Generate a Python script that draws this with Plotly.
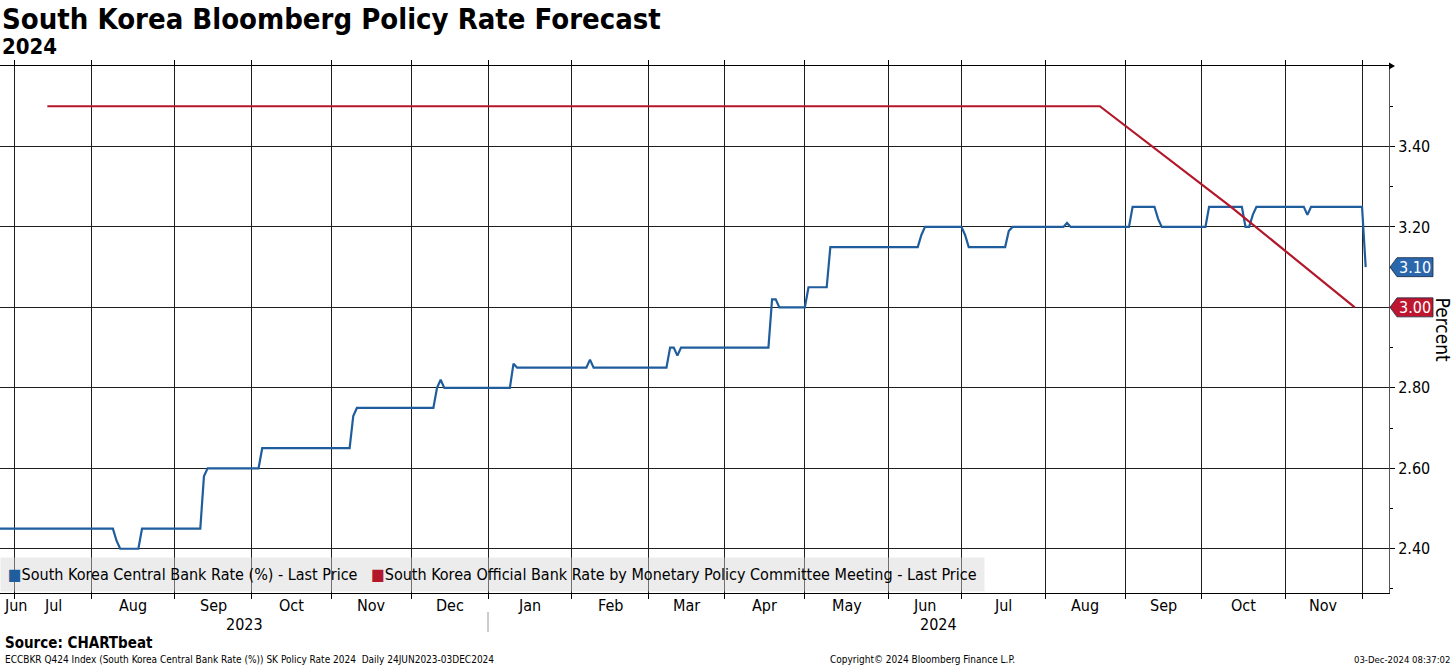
import pandas as pd
import plotly.graph_objects as go

# ---------------- data ----------------
TITLE = "South Korea Bloomberg Policy Rate Forecast"
SUBTITLE = "2024"
SERIES_NAMES = [
    "South Korea Central Bank Rate (%) - Last Price",
    "South Korea Official Bank Rate by Monetary Policy Committee Meeting - Last Price",
]

# Central bank rate forecast (daily, weekdays) - change points
cb_dates = [
    "2023-06-26", "2023-08-09", "2023-08-10", "2023-08-11", "2023-08-18", "2023-08-21",
    "2023-09-12", "2023-09-13", "2023-09-14", "2023-10-04", "2023-10-05",
    "2023-11-08", "2023-11-09", "2023-11-10",
    "2023-12-11", "2023-12-12", "2023-12-13", "2023-12-14",
    "2024-01-09", "2024-01-10", "2024-01-11",
    "2024-02-07", "2024-02-08", "2024-02-09",
    "2024-03-08", "2024-03-11", "2024-03-12", "2024-03-13", "2024-03-14",
    "2024-04-17", "2024-04-18", "2024-04-19", "2024-04-22",
    "2024-05-01", "2024-05-02", "2024-05-09", "2024-05-10",
    "2024-06-13", "2024-06-14", "2024-06-17",
    "2024-07-01", "2024-07-02", "2024-07-03",
    "2024-07-17", "2024-07-18", "2024-07-19",
    "2024-08-08", "2024-08-09", "2024-08-12",
    "2024-09-03", "2024-09-04", "2024-09-12", "2024-09-13", "2024-09-16",
    "2024-10-02", "2024-10-03",
    "2024-10-16", "2024-10-17", "2024-10-18", "2024-10-21", "2024-10-22",
    "2024-11-08", "2024-11-11", "2024-11-12",
    "2024-12-02", "2024-12-03",
]
cb_values = [
    2.45, 2.45, 2.42, 2.40, 2.40, 2.45,
    2.45, 2.58, 2.60, 2.60, 2.65,
    2.65, 2.73, 2.75,
    2.75, 2.80, 2.82, 2.80,
    2.80, 2.86, 2.85,
    2.85, 2.87, 2.85,
    2.85, 2.90, 2.90, 2.88, 2.90,
    2.90, 3.02, 3.02, 3.00,
    3.00, 3.05, 3.05, 3.15,
    3.15, 3.18, 3.20,
    3.20, 3.18, 3.15,
    3.15, 3.19, 3.20,
    3.20, 3.21, 3.20,
    3.20, 3.25, 3.25, 3.22, 3.20,
    3.20, 3.25,
    3.25, 3.20, 3.20, 3.23, 3.25,
    3.25, 3.23, 3.25,
    3.25, 3.10,
]

# Official bank rate at Monetary Policy Committee meetings
mpc_dates = [
    "2023-07-14", "2023-08-24", "2023-10-19", "2023-11-30", "2024-01-11", "2024-02-22",
    "2024-04-12", "2024-05-23", "2024-07-11", "2024-08-22", "2024-10-11", "2024-11-28",
]
mpc_values = [3.50, 3.50, 3.50, 3.50, 3.50, 3.50, 3.50, 3.50, 3.50, 3.50, 3.25, 3.00]

y_tick_vals = [2.40, 2.60, 2.80, 3.00, 3.20, 3.40]
y_minor_vals = [2.30, 2.50, 2.70, 2.90, 3.10, 3.30, 3.50]
month_labels = ["Jun", "Jul", "Aug", "Sep", "Oct", "Nov", "Dec", "Jan", "Feb", "Mar",
                "Apr", "May", "Jun", "Jul", "Aug", "Sep", "Oct", "Nov"]
month_periods = ["2023-06", "2023-07", "2023-08", "2023-09", "2023-10", "2023-11", "2023-12",
                 "2024-01", "2024-02", "2024-03", "2024-04", "2024-05", "2024-06", "2024-07",
                 "2024-08", "2024-09", "2024-10", "2024-11"]
year_labels = ["2023", "2024"]

SOURCE = "Source: CHARTbeat"
FOOTNOTE = "ECCBKR Q424 Index (South Korea Central Bank Rate (%)) SK Policy Rate 2024\u00a0\u00a0Daily 24JUN2023-03DEC2024"
COPYRIGHT = "Copyright\u00a9 2024 Bloomberg Finance L.P."
STAMP = "03-Dec-2024 08:37:02"
Y_TITLE = "Percent"

# ---------------- style ----------------
X_START = pd.Timestamp("2023-06-27 00:00")
X_END = pd.Timestamp("2024-12-11 09:36")
Y_RANGE = [2.29, 3.60]

BLUE = "#1f5d9d"
RED = "#b2172b"
BLUE_TAG = "#2a67ad"
RED_TAG = "#bf1630"
GRID = "#1e1e1e"
FONT = "DejaVu Sans Condensed, DejaVu Sans, sans-serif"
W, H = 1456, 666
ML, MR, MT, MB = 0, 67, 66, 73

bdays = pd.bdate_range("2023-06-01", "2024-12-31")


def bday_shift(start, k):
    """Position k business days after a business-day start (fractional allowed)."""
    idx = bdays.get_indexer([start.normalize()])[0]
    whole = int(k)
    return bdays[idx + whole] + pd.Timedelta(days=(k - whole)) + (start - start.normalize())


def n_bdays(a, b):
    return len(bdays[(bdays >= a.normalize()) & (bdays < b.normalize())]) + \
        ((b - b.normalize()) - (a - a.normalize())) / pd.Timedelta(days=1)


# month boundaries (first business day of each month) -> vertical grid
month_starts = [bdays[bdays.to_period("M") == pd.Period(p)][0] for p in month_periods[1:]]
month_starts.append(bdays[bdays.to_period("M") == pd.Period("2024-12")][0])

fig = go.Figure()
fig.add_trace(go.Scatter(
    x=pd.to_datetime(cb_dates), y=cb_values, mode="lines", name=SERIES_NAMES[0],
    line=dict(color=BLUE, width=2.2), showlegend=False))
fig.add_trace(go.Scatter(
    x=pd.to_datetime(mpc_dates), y=mpc_values, mode="lines", name=SERIES_NAMES[1],
    line=dict(color=RED, width=2.2), showlegend=False))

annotations = []
shapes = []

# month labels centred in each month's span
for lab, per in zip(month_labels, month_periods):
    if per == "2023-06":
        annotations.append(dict(x=X_START, y=0, xref="x", yref="paper", text=lab,
                                xanchor="left", yanchor="middle", xshift=2, yshift=-12,
                                showarrow=False, font=dict(family=FONT, size=16, color="#000")))
        continue
    bd = bdays[bdays.to_period("M") == pd.Period(per)]
    mid = bday_shift(bd[0], len(bd) / 2)
    annotations.append(dict(x=mid, y=0, xref="x", yref="paper", text=lab,
                            xanchor="center", yanchor="middle", yshift=-12,
                            showarrow=False, font=dict(family=FONT, size=16, color="#000")))

# year labels centred in visible portion of each year
jan1 = pd.Timestamp("2024-01-01")
for lab, (a, b) in zip(year_labels, [(X_START, jan1), (jan1, X_END)]):
    mid = bday_shift(a, n_bdays(a, b) / 2)
    annotations.append(dict(x=mid, y=0, xref="x", yref="paper", text=lab,
                            xanchor="center", yanchor="middle", yshift=-31,
                            showarrow=False, font=dict(family=FONT, size=16, color="#000")))

shapes.append(dict(type="line", xref="x", yref="paper", x0=jan1, x1=jan1,
                   ysizemode="pixel", yanchor=0, y0=-19, y1=-39,
                   line=dict(color="#9a9a9a", width=1)))

# title / subtitle
annotations.append(dict(x=0, y=1, xref="paper", yref="paper", text="<b>" + TITLE + "</b>",
                        xanchor="left", yanchor="middle", yshift=47, showarrow=False,
                        font=dict(family=FONT, size=29, color="#000")))
annotations.append(dict(x=0, y=1, xref="paper", yref="paper", text="<b>" + SUBTITLE + "</b>",
                        xanchor="left", yanchor="middle", yshift=20, showarrow=False,
                        font=dict(family=FONT, size=22, color="#000")))

# legend box
sq = lambda c: "<span style='color:%s'>\u25a0</span>" % c
legend_text = (sq(BLUE) + SERIES_NAMES[0] + "\u00a0\u00a0\u00a0" + sq(RED) + SERIES_NAMES[1])
annotations.append(dict(x=0, y=0, xref="paper", yref="paper", text=legend_text,
                        xanchor="left", yanchor="bottom", yshift=1, showarrow=False,
                        align="left", bgcolor="rgba(212,212,212,0.45)", borderpad=7,
                        font=dict(family=FONT, size=16, color="#000")))

# y axis title
annotations.append(dict(x=1, y=0.5, xref="paper", yref="paper", text=Y_TITLE, textangle=90,
                        xanchor="center", yanchor="middle", xshift=54, showarrow=False,
                        font=dict(family=FONT, size=19, color="#000")))

# last value tags
for val, col in [(cb_values[-1], BLUE_TAG), (mpc_values[-1], RED_TAG)]:
    shapes.append(dict(type="path", xref="paper", yref="y", xsizemode="pixel",
                       ysizemode="pixel", xanchor=1, yanchor=val,
                       path="M 1 0 L 8 9.5 L 44 9.5 L 44 -9.5 L 8 -9.5 Z",
                       fillcolor=col, line=dict(color="#1a2a40", width=0.8)))
    annotations.append(dict(x=1, y=val, xref="paper", yref="y", text="%.2f" % val,
                            xanchor="center", yanchor="middle", xshift=26, showarrow=False,
                            font=dict(family=FONT, size=16, color="#ffffff")))

# arrow at end of top border
shapes.append(dict(type="path", xref="paper", yref="paper", xsizemode="pixel",
                   ysizemode="pixel", xanchor=1, yanchor=1,
                   path="M 0 -3.5 L 6 0 L 0 3.5 Z", fillcolor="#000", line=dict(width=0)))

# footer
annotations.append(dict(x=0, y=0, xref="paper", yref="paper", text="<b>" + SOURCE + "</b>",
                        xanchor="left", yanchor="middle", xshift=3, yshift=-50, showarrow=False,
                        font=dict(family=FONT, size=15, color="#000")))
annotations.append(dict(x=0, y=0, xref="paper", yref="paper", text=FOOTNOTE,
                        xanchor="left", yanchor="middle", xshift=3, yshift=-66, showarrow=False,
                        font=dict(family=FONT, size=10, color="#000")))
annotations.append(dict(x=923 / (W - MR), y=0, xref="paper", yref="paper", text=COPYRIGHT,
                        xanchor="center", yanchor="middle", yshift=-66, showarrow=False,
                        font=dict(family=FONT, size=10, color="#000")))
annotations.append(dict(x=1, y=0, xref="paper", yref="paper", text=STAMP,
                        xanchor="right", yanchor="middle", xshift=63, yshift=-66, showarrow=False,
                        font=dict(family=FONT, size=9.5, color="#000")))

fig.update_layout(
    width=W, height=H,
    margin=dict(l=ML, r=MR, t=MT, b=MB),
    paper_bgcolor="#ffffff", plot_bgcolor="#ffffff",
    showlegend=False,
    annotations=annotations, shapes=shapes,
    xaxis=dict(
        type="date", range=[X_START, X_END],
        rangebreaks=[dict(bounds=["sat", "mon"])],
        tickmode="array", tickvals=month_starts, showticklabels=False,
        ticks="outside", ticklen=5, tickcolor="#000",
        showgrid=True, gridcolor=GRID, gridwidth=1,
        showline=True, linecolor="#000", linewidth=1, mirror="ticks",
        zeroline=False,
    ),
    yaxis=dict(
        side="right", range=Y_RANGE,
        tickmode="array", tickvals=y_tick_vals, tickformat=".2f",
        ticks="outside", ticklen=5, tickcolor="#000",
        tickfont=dict(family=FONT, size=16, color="#000"),
        showgrid=True, gridcolor=GRID, gridwidth=1,
        showline=True, linecolor="#555", linewidth=1, mirror=False,
        zeroline=False,
        minor=dict(tickmode="array", tickvals=y_minor_vals, ticks="outside",
                   ticklen=3, tickcolor="#000", showgrid=False),
    ),
)

fig.write_html("out.html", config={"displayModeBar": False},
               post_script="document.body.style.margin='0';document.body.style.padding='0';"
                           "document.body.style.overflow='hidden';")
